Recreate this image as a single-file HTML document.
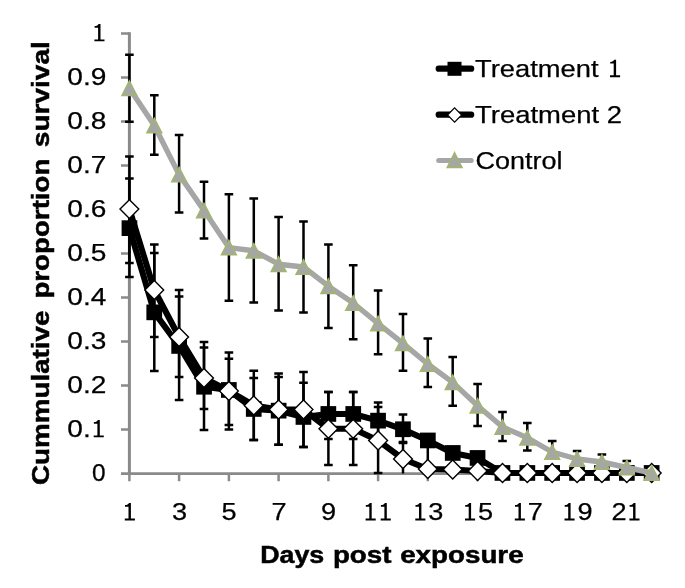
<!DOCTYPE html>
<html><head><meta charset="utf-8"><title>Chart</title>
<style>
html,body{margin:0;padding:0;background:#fff;}
svg{display:block;will-change:transform;}
text{font-family:"Liberation Sans",sans-serif;fill:#000;}
</style></head>
<body>
<svg width="685" height="588" viewBox="0 0 685 588">
<rect width="685" height="588" fill="#fff"/>
<path d="M129.4 32.3V475" stroke="#8a8a8a" stroke-width="3" fill="none"/>
<path d="M121 473.6H652" stroke="#8a8a8a" stroke-width="2.6" fill="none"/>
<path d="M121 33.6H129.4M121 77.6H129.4M121 121.6H129.4M121 165.6H129.4M121 209.6H129.4M121 253.6H129.4M121 297.6H129.4M121 341.6H129.4M121 385.6H129.4M121 429.6H129.4M129.4 473.6V481.2M179.1 473.6V481.2M228.9 473.6V481.2M278.6 473.6V481.2M328.4 473.6V481.2M378.1 473.6V481.2M427.8 473.6V481.2M477.6 473.6V481.2M527.3 473.6V481.2M577.1 473.6V481.2M626.8 473.6V481.2" stroke="#8a8a8a" stroke-width="2.5" fill="none"/>
<polyline points="129.4,228.2 154.3,312.4 179.1,346.0 204.0,386.8 228.9,390.0 253.8,409.0 278.6,410.7 303.5,417.0 328.4,414.0 353.2,414.0 378.1,420.6 403.0,429.3 427.8,440.5 452.7,453.0 477.6,458.0 502.5,473.0 527.3,473.0 552.2,473.0 577.1,473.0 601.9,473.0 626.8,473.0 651.7,473.0" fill="none" stroke="#000" stroke-width="6.1" stroke-linejoin="round" stroke-linecap="round"/>
<path d="M129.4 178.6V277.0M125.1 178.6H133.7M125.1 277.0H133.7M154.3 253.0V371.0M150.0 253.0H158.6M150.0 371.0H158.6M179.1 290.0V400.0M174.8 290.0H183.4M174.8 400.0H183.4M204.0 342.0V430.0M199.7 342.0H208.3M199.7 430.0H208.3M228.9 352.6V429.5M224.6 352.6H233.2M224.6 429.5H233.2M253.8 378.0V440.0M249.4 378.0H258.1M249.4 440.0H258.1M278.6 377.0V444.7M274.3 377.0H282.9M274.3 444.7H282.9M303.5 382.7V447.0M299.2 382.7H307.8M299.2 447.0H307.8M328.4 392.0V439.0M324.1 392.0H332.7M324.1 439.0H332.7M353.2 392.0V439.0M348.9 392.0H357.5M348.9 439.0H357.5M378.1 402.5V438.3M373.8 402.5H382.4M373.8 438.3H382.4M403.0 414.4V443.0M398.7 414.4H407.3M398.7 443.0H407.3M427.8 440V469" fill="none" stroke="#000" stroke-width="2.5"/>
<rect x="121.6" y="220.3" width="15.7" height="15.7" fill="#000"/>
<rect x="146.4" y="304.5" width="15.7" height="15.7" fill="#000"/>
<rect x="171.3" y="338.1" width="15.7" height="15.7" fill="#000"/>
<rect x="196.2" y="378.9" width="15.7" height="15.7" fill="#000"/>
<rect x="221.0" y="382.1" width="15.7" height="15.7" fill="#000"/>
<rect x="245.9" y="401.1" width="15.7" height="15.7" fill="#000"/>
<rect x="270.8" y="402.8" width="15.7" height="15.7" fill="#000"/>
<rect x="295.6" y="409.1" width="15.7" height="15.7" fill="#000"/>
<rect x="320.5" y="406.1" width="15.7" height="15.7" fill="#000"/>
<rect x="345.4" y="406.1" width="15.7" height="15.7" fill="#000"/>
<rect x="370.2" y="412.8" width="15.7" height="15.7" fill="#000"/>
<rect x="395.1" y="421.4" width="15.7" height="15.7" fill="#000"/>
<rect x="420.0" y="432.6" width="15.7" height="15.7" fill="#000"/>
<rect x="444.9" y="445.1" width="15.7" height="15.7" fill="#000"/>
<rect x="469.7" y="450.1" width="15.7" height="15.7" fill="#000"/>
<rect x="494.6" y="465.1" width="15.7" height="15.7" fill="#000"/>
<rect x="519.5" y="465.1" width="15.7" height="15.7" fill="#000"/>
<rect x="544.3" y="465.1" width="15.7" height="15.7" fill="#000"/>
<rect x="569.2" y="465.1" width="15.7" height="15.7" fill="#000"/>
<rect x="594.1" y="465.1" width="15.7" height="15.7" fill="#000"/>
<rect x="619.0" y="465.1" width="15.7" height="15.7" fill="#000"/>
<rect x="643.8" y="465.1" width="15.7" height="15.7" fill="#000"/>
<polyline points="129.4,209.1 154.3,290.0 179.1,337.0 204.0,378.0 228.9,391.0 253.8,405.5 278.6,409.5 303.5,409.5 328.4,428.8 353.2,428.8 378.1,440.5 403.0,459.0 427.8,469.0 452.7,469.5 477.6,471.0 502.5,473.0 527.3,473.0 552.2,473.0 577.1,473.0 601.9,473.0 626.8,473.0 651.7,473.0" fill="none" stroke="#000" stroke-width="6.1" stroke-linejoin="round" stroke-linecap="round"/>
<path d="M129.4 156.5V263.0M125.1 156.5H133.7M125.1 263.0H133.7M154.3 244.4V337.0M150.0 244.4H158.6M150.0 337.0H158.6M179.1 296.5V377.0M174.8 296.5H183.4M174.8 377.0H183.4M204.0 347.6V409.0M199.7 347.6H208.3M199.7 409.0H208.3M228.9 358.8V425.0M224.6 358.8H233.2M224.6 425.0H233.2M253.8 370.7V440.0M249.4 370.7H258.1M249.4 440.0H258.1M278.6 373.5V444.7M274.3 373.5H282.9M274.3 444.7H282.9M303.5 372.0V447.0M299.2 372.0H307.8M299.2 447.0H307.8M328.4 392.0V465.0M324.1 392.0H332.7M324.1 465.0H332.7M353.2 392.0V465.0M348.9 392.0H357.5M348.9 465.0H357.5M378.1 407.0V473.0M373.8 407.0H382.4M373.8 473.0H382.4M403.0 442.0V473.4M398.7 442.0H407.3" fill="none" stroke="#000" stroke-width="2.5"/>
<path d="M120.0 209.1L129.4 199.7L138.8 209.1L129.4 218.5Z" fill="#fff" stroke="#000" stroke-width="1.4"/>
<path d="M144.9 290.0L154.3 280.6L163.7 290.0L154.3 299.4Z" fill="#fff" stroke="#000" stroke-width="1.4"/>
<path d="M169.7 337.0L179.1 327.6L188.5 337.0L179.1 346.4Z" fill="#fff" stroke="#000" stroke-width="1.4"/>
<path d="M194.6 378.0L204.0 368.6L213.4 378.0L204.0 387.4Z" fill="#fff" stroke="#000" stroke-width="1.4"/>
<path d="M219.5 391.0L228.9 381.6L238.3 391.0L228.9 400.4Z" fill="#fff" stroke="#000" stroke-width="1.4"/>
<path d="M244.3 405.5L253.8 396.1L263.1 405.5L253.8 414.9Z" fill="#fff" stroke="#000" stroke-width="1.4"/>
<path d="M269.2 409.5L278.6 400.1L288.0 409.5L278.6 418.9Z" fill="#fff" stroke="#000" stroke-width="1.4"/>
<path d="M294.1 409.5L303.5 400.1L312.9 409.5L303.5 418.9Z" fill="#fff" stroke="#000" stroke-width="1.4"/>
<path d="M319.0 428.8L328.4 419.4L337.8 428.8L328.4 438.2Z" fill="#fff" stroke="#000" stroke-width="1.4"/>
<path d="M343.8 428.8L353.2 419.4L362.6 428.8L353.2 438.2Z" fill="#fff" stroke="#000" stroke-width="1.4"/>
<path d="M368.7 440.5L378.1 431.1L387.5 440.5L378.1 449.9Z" fill="#fff" stroke="#000" stroke-width="1.4"/>
<path d="M393.6 459.0L403.0 449.6L412.4 459.0L403.0 468.4Z" fill="#fff" stroke="#000" stroke-width="1.4"/>
<path d="M418.4 469.0L427.8 459.6L437.2 469.0L427.8 478.4Z" fill="#fff" stroke="#000" stroke-width="1.4"/>
<path d="M443.3 469.5L452.7 460.1L462.1 469.5L452.7 478.9Z" fill="#fff" stroke="#000" stroke-width="1.4"/>
<path d="M468.2 471.0L477.6 461.6L487.0 471.0L477.6 480.4Z" fill="#fff" stroke="#000" stroke-width="1.4"/>
<path d="M493.1 473.0L502.5 463.6L511.9 473.0L502.5 482.4Z" fill="#fff" stroke="#000" stroke-width="1.4"/>
<path d="M517.9 473.0L527.3 463.6L536.7 473.0L527.3 482.4Z" fill="#fff" stroke="#000" stroke-width="1.4"/>
<path d="M542.8 473.0L552.2 463.6L561.6 473.0L552.2 482.4Z" fill="#fff" stroke="#000" stroke-width="1.4"/>
<path d="M567.7 473.0L577.1 463.6L586.5 473.0L577.1 482.4Z" fill="#fff" stroke="#000" stroke-width="1.4"/>
<path d="M592.5 473.0L601.9 463.6L611.3 473.0L601.9 482.4Z" fill="#fff" stroke="#000" stroke-width="1.4"/>
<path d="M617.4 473.0L626.8 463.6L636.2 473.0L626.8 482.4Z" fill="#fff" stroke="#000" stroke-width="1.4"/>
<path d="M642.3 473.0L651.7 463.6L661.1 473.0L651.7 482.4Z" fill="#fff" stroke="#000" stroke-width="1.4"/>
<polyline points="129.4,88.2 154.3,125.5 179.1,174.6 204.0,210.5 228.9,247.6 253.8,250.8 278.6,264.2 303.5,267.0 328.4,286.2 353.2,303.0 378.1,323.5 403.0,343.4 427.8,364.0 452.7,382.4 477.6,405.8 502.5,427.0 527.3,437.8 552.2,452.0 577.1,459.0 601.9,462.0 626.8,467.5 651.7,473.0" fill="none" stroke="#a6a6a6" stroke-width="5.4" stroke-linejoin="round" stroke-linecap="round"/>
<path d="M129.4 54.7V121.7M125.1 54.7H133.7M125.1 121.7H133.7M154.3 95.2V154.7M150.0 95.2H158.6M150.0 154.7H158.6M179.1 134.9V212.6M174.8 134.9H183.4M174.8 212.6H183.4M204.0 181.8V238.5M199.7 181.8H208.3M199.7 238.5H208.3M228.9 194.2V300.7M224.6 194.2H233.2M224.6 300.7H233.2M253.8 198.4V302.5M249.4 198.4H258.1M249.4 302.5H258.1M278.6 217.0V310.6M274.3 217.0H282.9M274.3 310.6H282.9M303.5 221.5V312.4M299.2 221.5H307.8M299.2 312.4H307.8M328.4 244.4V328.0M324.1 244.4H332.7M324.1 328.0H332.7M353.2 265.3V339.3M348.9 265.3H357.5M348.9 339.3H357.5M378.1 290.4V354.2M373.8 290.4H382.4M373.8 354.2H382.4M403.0 314.0V370.8M398.7 314.0H407.3M398.7 370.8H407.3M427.8 338.6V387.0M423.5 338.6H432.1M423.5 387.0H432.1M452.7 357.0V405.8M448.4 357.0H457.0M448.4 405.8H457.0M477.6 384.0V426.0M473.3 384.0H481.9M473.3 426.0H481.9M502.5 412.0V441.0M498.2 412.0H506.8M498.2 441.0H506.8M527.3 423.0V450.5M523.0 423.0H531.6M523.0 450.5H531.6M552.2 441.0V458.0M547.9 441.0H556.5M547.9 458.0H556.5M577.1 451.0V465.0M572.8 451.0H581.4M572.8 465.0H581.4M601.9 454.4V468.0M597.6 454.4H606.2M597.6 468.0H606.2M626.8 461.0V472.0M622.5 461.0H631.1M622.5 472.0H631.1" fill="none" stroke="#000" stroke-width="2.5"/>
<path d="M129.4 81.0L136.8 95.4L122.0 95.4Z" fill="#a6a6a6" stroke="#a0b66e" stroke-width="1.5"/>
<path d="M154.3 118.3L161.7 132.7L146.9 132.7Z" fill="#a6a6a6" stroke="#a0b66e" stroke-width="1.5"/>
<path d="M179.1 167.4L186.5 181.8L171.7 181.8Z" fill="#a6a6a6" stroke="#a0b66e" stroke-width="1.5"/>
<path d="M204.0 203.3L211.4 217.7L196.6 217.7Z" fill="#a6a6a6" stroke="#a0b66e" stroke-width="1.5"/>
<path d="M228.9 240.4L236.3 254.8L221.5 254.8Z" fill="#a6a6a6" stroke="#a0b66e" stroke-width="1.5"/>
<path d="M253.8 243.6L261.1 258.0L246.3 258.0Z" fill="#a6a6a6" stroke="#a0b66e" stroke-width="1.5"/>
<path d="M278.6 257.0L286.0 271.4L271.2 271.4Z" fill="#a6a6a6" stroke="#a0b66e" stroke-width="1.5"/>
<path d="M303.5 259.8L310.9 274.2L296.1 274.2Z" fill="#a6a6a6" stroke="#a0b66e" stroke-width="1.5"/>
<path d="M328.4 279.0L335.8 293.4L321.0 293.4Z" fill="#a6a6a6" stroke="#a0b66e" stroke-width="1.5"/>
<path d="M353.2 295.8L360.6 310.2L345.8 310.2Z" fill="#a6a6a6" stroke="#a0b66e" stroke-width="1.5"/>
<path d="M378.1 316.3L385.5 330.7L370.7 330.7Z" fill="#a6a6a6" stroke="#a0b66e" stroke-width="1.5"/>
<path d="M403.0 336.2L410.4 350.6L395.6 350.6Z" fill="#a6a6a6" stroke="#a0b66e" stroke-width="1.5"/>
<path d="M427.8 356.8L435.2 371.2L420.4 371.2Z" fill="#a6a6a6" stroke="#a0b66e" stroke-width="1.5"/>
<path d="M452.7 375.2L460.1 389.6L445.3 389.6Z" fill="#a6a6a6" stroke="#a0b66e" stroke-width="1.5"/>
<path d="M477.6 398.6L485.0 413.0L470.2 413.0Z" fill="#a6a6a6" stroke="#a0b66e" stroke-width="1.5"/>
<path d="M502.5 419.8L509.9 434.2L495.1 434.2Z" fill="#a6a6a6" stroke="#a0b66e" stroke-width="1.5"/>
<path d="M527.3 430.6L534.7 445.0L519.9 445.0Z" fill="#a6a6a6" stroke="#a0b66e" stroke-width="1.5"/>
<path d="M552.2 444.8L559.6 459.2L544.8 459.2Z" fill="#a6a6a6" stroke="#a0b66e" stroke-width="1.5"/>
<path d="M577.1 451.8L584.5 466.2L569.7 466.2Z" fill="#a6a6a6" stroke="#a0b66e" stroke-width="1.5"/>
<path d="M601.9 454.8L609.3 469.2L594.5 469.2Z" fill="#a6a6a6" stroke="#a0b66e" stroke-width="1.5"/>
<path d="M626.8 460.3L634.2 474.7L619.4 474.7Z" fill="#a6a6a6" stroke="#a0b66e" stroke-width="1.5"/>
<path d="M651.7 465.8L659.1 480.2L644.3 480.2Z" fill="#a6a6a6" stroke="#a0b66e" stroke-width="1.5"/>
<path d="M438.7 68.7H471.2" stroke="#000" stroke-width="6.2" stroke-linecap="round"/>
<path d="M438.7 114.7H471.2" stroke="#000" stroke-width="6.2" stroke-linecap="round"/>
<path d="M438.7 160.4H471.2" stroke="#a6a6a6" stroke-width="5" stroke-linecap="round"/>
<rect x="447.5" y="61.8" width="14" height="14" fill="#000"/>
<path d="M447.5 115.0L454.6 107.9L461.7 115.0L454.6 122.1Z" fill="#fff" stroke="#000" stroke-width="1.2"/>
<path d="M454.6 152.8L462.0 167.6L447.2 167.6Z" fill="#a6a6a6" stroke="#a0b66e" stroke-width="1.5"/>
<path transform="translate(94.4,41.3)" d="M0 0H10.1V-1.9H6.1V-17.4H4.2C3.7 -16.3 2.3 -15.4 0.2 -15.3V-13.6H3.7V-1.9H0Z" fill="#000"/>
<text x="67.3" y="85.3" textLength="39.0" lengthAdjust="spacingAndGlyphs" font-size="24" stroke="#000" stroke-width="0.25">0.9</text>
<text x="67.3" y="129.3" textLength="39.0" lengthAdjust="spacingAndGlyphs" font-size="24" stroke="#000" stroke-width="0.25">0.8</text>
<text x="67.3" y="173.3" textLength="39.0" lengthAdjust="spacingAndGlyphs" font-size="24" stroke="#000" stroke-width="0.25">0.7</text>
<text x="67.3" y="217.3" textLength="39.0" lengthAdjust="spacingAndGlyphs" font-size="24" stroke="#000" stroke-width="0.25">0.6</text>
<text x="67.3" y="261.3" textLength="39.0" lengthAdjust="spacingAndGlyphs" font-size="24" stroke="#000" stroke-width="0.25">0.5</text>
<text x="67.3" y="305.3" textLength="39.0" lengthAdjust="spacingAndGlyphs" font-size="24" stroke="#000" stroke-width="0.25">0.4</text>
<text x="67.3" y="349.3" textLength="39.0" lengthAdjust="spacingAndGlyphs" font-size="24" stroke="#000" stroke-width="0.25">0.3</text>
<text x="67.3" y="393.3" textLength="39.0" lengthAdjust="spacingAndGlyphs" font-size="24" stroke="#000" stroke-width="0.25">0.2</text>
<text x="67.3" y="437.3" textLength="23.4" lengthAdjust="spacingAndGlyphs" font-size="24" stroke="#000" stroke-width="0.25">0.</text>
<path transform="translate(93.7,437.3)" d="M0 0H10.1V-1.9H6.1V-17.4H4.2C3.7 -16.3 2.3 -15.4 0.2 -15.3V-13.6H3.7V-1.9H0Z" fill="#000"/>
<text x="92.1" y="481.3" textLength="13.6" lengthAdjust="spacingAndGlyphs" font-size="24" stroke="#000" stroke-width="0.25">0</text>
<path transform="translate(124.8,520.4)" d="M0 0H10.1V-1.9H6.1V-17.4H4.2C3.7 -16.3 2.3 -15.4 0.2 -15.3V-13.6H3.7V-1.9H0Z" fill="#000"/>
<text x="171.9" y="520.4" textLength="15.1" lengthAdjust="spacingAndGlyphs" font-size="24" stroke="#000" stroke-width="0.25">3</text>
<text x="221.6" y="520.4" textLength="15.1" lengthAdjust="spacingAndGlyphs" font-size="24" stroke="#000" stroke-width="0.25">5</text>
<text x="271.4" y="520.4" textLength="15.1" lengthAdjust="spacingAndGlyphs" font-size="24" stroke="#000" stroke-width="0.25">7</text>
<text x="321.1" y="520.4" textLength="15.1" lengthAdjust="spacingAndGlyphs" font-size="24" stroke="#000" stroke-width="0.25">9</text>
<path transform="translate(365.6,520.4)" d="M0 0H10.1V-1.9H6.1V-17.4H4.2C3.7 -16.3 2.3 -15.4 0.2 -15.3V-13.6H3.7V-1.9H0Z" fill="#000"/>
<path transform="translate(380.7,520.4)" d="M0 0H10.1V-1.9H6.1V-17.4H4.2C3.7 -16.3 2.3 -15.4 0.2 -15.3V-13.6H3.7V-1.9H0Z" fill="#000"/>
<path transform="translate(415.3,520.4)" d="M0 0H10.1V-1.9H6.1V-17.4H4.2C3.7 -16.3 2.3 -15.4 0.2 -15.3V-13.6H3.7V-1.9H0Z" fill="#000"/>
<text x="428.3" y="520.4" textLength="15.1" lengthAdjust="spacingAndGlyphs" font-size="24" stroke="#000" stroke-width="0.25">3</text>
<path transform="translate(465.0,520.4)" d="M0 0H10.1V-1.9H6.1V-17.4H4.2C3.7 -16.3 2.3 -15.4 0.2 -15.3V-13.6H3.7V-1.9H0Z" fill="#000"/>
<text x="478.0" y="520.4" textLength="15.1" lengthAdjust="spacingAndGlyphs" font-size="24" stroke="#000" stroke-width="0.25">5</text>
<path transform="translate(514.8,520.4)" d="M0 0H10.1V-1.9H6.1V-17.4H4.2C3.7 -16.3 2.3 -15.4 0.2 -15.3V-13.6H3.7V-1.9H0Z" fill="#000"/>
<text x="527.8" y="520.4" textLength="15.1" lengthAdjust="spacingAndGlyphs" font-size="24" stroke="#000" stroke-width="0.25">7</text>
<path transform="translate(564.5,520.4)" d="M0 0H10.1V-1.9H6.1V-17.4H4.2C3.7 -16.3 2.3 -15.4 0.2 -15.3V-13.6H3.7V-1.9H0Z" fill="#000"/>
<text x="577.5" y="520.4" textLength="15.1" lengthAdjust="spacingAndGlyphs" font-size="24" stroke="#000" stroke-width="0.25">9</text>
<text x="611.4" y="520.4" textLength="15.1" lengthAdjust="spacingAndGlyphs" font-size="24" stroke="#000" stroke-width="0.25">2</text>
<path transform="translate(629.4,520.4)" d="M0 0H10.1V-1.9H6.1V-17.4H4.2C3.7 -16.3 2.3 -15.4 0.2 -15.3V-13.6H3.7V-1.9H0Z" fill="#000"/>
<text x="475.0" y="77.2" textLength="123.5" lengthAdjust="spacingAndGlyphs" font-size="24.6" stroke="#000" stroke-width="0.25">Treatment</text>
<path transform="translate(610.0,77.2)" d="M0 0H10.1V-1.9H6.1V-17.4H4.2C3.7 -16.3 2.3 -15.4 0.2 -15.3V-13.6H3.7V-1.9H0Z" fill="#000"/>
<text x="475.0" y="123.2" textLength="147.0" lengthAdjust="spacingAndGlyphs" font-size="24.6" stroke="#000" stroke-width="0.25">Treatment 2</text>
<text x="475.6" y="168.6" textLength="87.0" lengthAdjust="spacingAndGlyphs" font-size="24.6" stroke="#000" stroke-width="0.25">Control</text>
<text x="260.2" y="562.8" textLength="64.0" lengthAdjust="spacingAndGlyphs" font-size="24.6" font-weight="bold" stroke="#000" stroke-width="0.5">Days</text>
<text x="332.9" y="562.8" textLength="58.5" lengthAdjust="spacingAndGlyphs" font-size="24.6" font-weight="bold" stroke="#000" stroke-width="0.5">post</text>
<text x="400.2" y="562.8" textLength="123.4" lengthAdjust="spacingAndGlyphs" font-size="24.6" font-weight="bold" stroke="#000" stroke-width="0.5">exposure</text>
<g transform="translate(48.7,0) rotate(-90)">
<text x="-485.0" y="0" textLength="174.5" lengthAdjust="spacingAndGlyphs" font-size="24.6" font-weight="bold" stroke="#000" stroke-width="0.5">Cummulative</text>
<text x="-298.6" y="0" textLength="140.0" lengthAdjust="spacingAndGlyphs" font-size="24.6" font-weight="bold" stroke="#000" stroke-width="0.5">proportion</text>
<text x="-147.2" y="0" textLength="106.0" lengthAdjust="spacingAndGlyphs" font-size="24.6" font-weight="bold" stroke="#000" stroke-width="0.5">survival</text>
</g>
</svg>
</body></html>
